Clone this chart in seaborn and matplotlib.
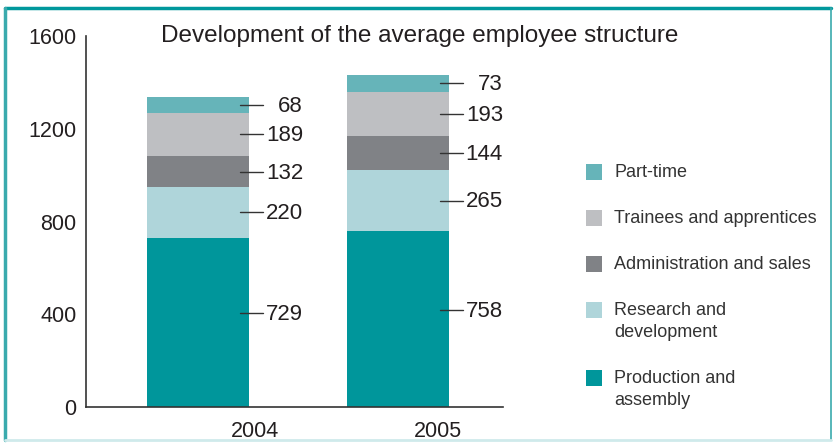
import numpy as np
import pandas as pd
import seaborn as sns
import matplotlib.pyplot as plt
from matplotlib.patches import Rectangle
from matplotlib.lines import Line2D

# data
years = ['2004', '2005']
categories = ['Production and\nassembly', 'Research and\ndevelopment',
              'Administration and sales', 'Trainees and apprentices', 'Part-time']
production = [729, 758]
research = [220, 265]
administration = [132, 144]
trainees = [189, 193]
part_time = [68, 73]
y_ticks = [0, 400, 800, 1200, 1600]

colors = ['#00969b', '#afd5da', '#808286', '#bebfc2', '#66b4b9']
label_shift = [40, 0, 0, 0, 0]  # leader line offset from segment middle
TXT = '#231f20'

sns.set_style('white')
plt.rcParams['font.family'] = ['Liberation Sans', 'DejaVu Sans']

series = [production, research, administration, trainees, part_time]
cum = np.cumsum(series, axis=0)
df = pd.DataFrame({
    'year': years * len(categories),
    'category': np.repeat(categories, len(years)),
    'value': np.concatenate(series),
    'top': cum.ravel(),
})

W, H = 835, 443
fig = plt.figure(figsize=(W / 100, H / 100), dpi=100)
ax = fig.add_axes([86 / W, 1 - 407 / H, (503 - 86) / W, (407 - 36) / H])

# stacked bars: draw cumulative totals from the top segment down
for i in reversed(range(len(categories))):
    sub = df[df['category'] == categories[i]]
    sns.barplot(data=sub, x='year', y='top', color=colors[i], width=0.51,
                saturation=1, errorbar=None, linewidth=0, ax=ax)

# value labels with leader lines
for i in range(len(categories)):
    for j in range(len(years)):
        mid = cum[i][j] - series[i][j] / 2 + label_shift[i]
        ax.plot([j + 0.21, j + 0.325], [mid, mid], color='#333333', lw=1.0)
        ax.text(j + 0.525, mid - 6, str(series[i][j]), ha='right', va='center',
                fontsize=16, color=TXT)

ax.set_ylim(0, 1600)
ax.set_xlim(-0.56, 1.525)
ax.set_yticks(y_ticks)
ax.set_xticks([0.285, 1.2], years)
ax.set_xticks([0.475, 1.525], minor=True)
ax.set_xlabel('')
ax.set_ylabel('')
ax.tick_params(axis='y', direction='in', length=8.5, width=1, pad=7,
               labelsize=15.5, labelcolor=TXT, color='#333333')
ax.tick_params(axis='x', which='major', length=0, pad=10, labelsize=15.5, labelcolor=TXT)
ax.tick_params(axis='x', which='minor', direction='in', length=7, width=1, color='#333333')
for s in ['top', 'right']:
    ax.spines[s].set_visible(False)
for s in ['left', 'bottom']:
    ax.spines[s].set_color('#333333')
    ax.spines[s].set_linewidth(1.2)

fig.text(420 / W, 1 - 36 / H, 'Development of the average employee structure',
         ha='center', va='center', fontsize=17.5, color=TXT)

# legend, top entry first, square aligned with the first text line
y = 172
for i in reversed(range(len(categories))):
    fig.add_artist(Rectangle((586 / W, 1 - (y + 8) / H), 16 / W, 16 / H,
                             transform=fig.transFigure, facecolor=colors[i],
                             edgecolor='none'))
    fig.text(614 / W, 1 - (y - 8) / H, categories[i], ha='left', va='top',
             fontsize=13, color='#333333', linespacing=1.35)
    y += 46 + 22 * categories[i].count('\n')

# frame around the figure
fig.add_artist(Line2D([5 / W, 831 / W], [1 - 8 / H, 1 - 8 / H],
                      transform=fig.transFigure, color='#00989c', lw=2.5))
fig.add_artist(Line2D([5 / W, 5 / W], [1 - 8 / H, 3 / H],
                      transform=fig.transFigure, color='#3aaaad', lw=2.5))
fig.add_artist(Line2D([831 / W, 831 / W], [1 - 8 / H, 3 / H],
                      transform=fig.transFigure, color='#3aaaad', lw=1.2))
fig.add_artist(Line2D([5 / W, 831 / W], [3 / H, 3 / H],
                      transform=fig.transFigure, color='#cfeaeb', lw=2))

fig.savefig('out.png', dpi=100)
